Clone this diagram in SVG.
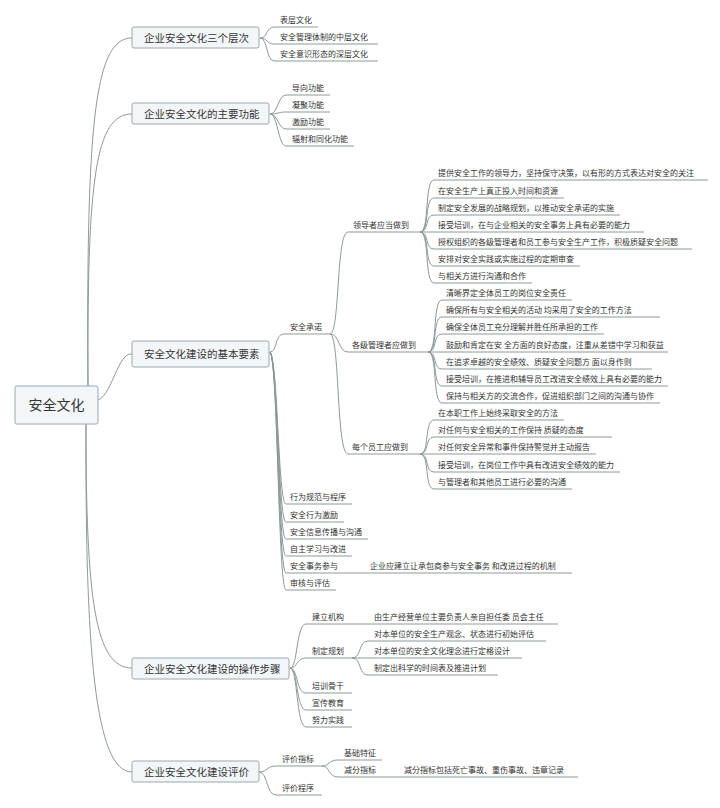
<svg xmlns="http://www.w3.org/2000/svg" width="720" height="808" viewBox="0 0 720 808">
<style>
.c{fill:none;stroke:#8c9a9a;stroke-width:1}
.t{font-family:"Noto Sans CJK SC","Liberation Sans",sans-serif;font-size:8px;fill:#333}
.b{fill:#f3f6f8;stroke:#9aa8ae;stroke-width:1}
.bt{font-family:"Noto Sans CJK SC","Liberation Sans",sans-serif;font-size:10.5px;fill:#333}
</style>
<rect width="720" height="808" fill="#fff"/>
<g id="connectors">
<path class="c" d="M88 386 C86 120 95 38 132 38"/>
<path class="c" d="M88 386 C87 180 95 114 132 114"/>
<path class="c" d="M98 400 C112 395 118 352 132 354"/>
<path class="c" d="M86 424 C86 600 95 668 132 668"/>
<path class="c" d="M86 424 C85 650 95 772 132 772"/>
<path class="c" d="M260 38 C268 38 266 27 274 27 H318"/>
<path class="c" d="M260 38 C268 38 266 44 274 44 H378"/>
<path class="c" d="M260 38 C268 38 266 61 274 61 H378"/>
<path class="c" d="M270 114 C278 114 278 95 286 95 H330"/>
<path class="c" d="M270 114 C278 114 278 112 286 112 H330"/>
<path class="c" d="M270 114 C278 114 278 129 286 129 H330"/>
<path class="c" d="M270 114 C278 114 278 146 286 146 H354"/>
<path class="c" d="M270 352 C278 352 274 334 284 334 H330"/>
<path class="c" d="M270 352 C278 360 278 504 286 504 H352"/>
<path class="c" d="M270 352 C278 360 278 522 286 522 H344"/>
<path class="c" d="M270 352 C278 360 278 539 286 539 H368"/>
<path class="c" d="M270 352 C278 360 278 556 286 556 H352"/>
<path class="c" d="M270 352 C278 360 278 573 286 573 H572"/>
<path class="c" d="M270 352 C278 360 278 590 286 590 H336"/>
<path class="c" d="M330 334 C340 334 336 232 348 232 H420"/>
<path class="c" d="M330 334 C340 334 338 352 348 352 H428"/>
<path class="c" d="M330 334 C340 334 336 454 348 454 H420"/>
<g id="lead-lines">
<path class="c" d="M420 232 C430 232 424 180 434 180 H708"/>
<path class="c" d="M420 232 C430 232 424 198 434 198 H564"/>
<path class="c" d="M420 232 C430 232 424 215 434 215 H620"/>
<path class="c" d="M420 232 C430 232 424 232 434 232 H644"/>
<path class="c" d="M420 232 C430 232 424 249 434 249 H692"/>
<path class="c" d="M420 232 C430 232 424 266 434 266 H580"/>
<path class="c" d="M420 232 C430 232 424 283 434 283 H532"/>
<path class="c" d="M428 352 C438 352 432 300 442 300 H572"/>
<path class="c" d="M428 352 C438 352 432 317 442 317 H660"/>
<path class="c" d="M428 352 C438 352 432 334 442 334 H604"/>
<path class="c" d="M428 352 C438 352 432 352 442 352 H668"/>
<path class="c" d="M428 352 C438 352 432 369 442 369 H652"/>
<path class="c" d="M428 352 C438 352 432 386 442 386 H668"/>
<path class="c" d="M428 352 C438 352 432 403 442 403 H660"/>
<path class="c" d="M420 454 C430 454 424 420 434 420 H564"/>
<path class="c" d="M420 454 C430 454 424 437 434 437 H612"/>
<path class="c" d="M420 454 C430 454 424 454 434 454 H596"/>
<path class="c" d="M420 454 C430 454 424 472 434 472 H620"/>
<path class="c" d="M420 454 C430 454 424 489 434 489 H572"/>
</g>
<path class="c" d="M290 668 C298 668 296 624 306 624 H558"/>
<path class="c" d="M290 668 C298 668 296 658 306 658 H352"/>
<path class="c" d="M290 668 C298 668 296 693 306 693 H352"/>
<path class="c" d="M290 668 C298 668 296 710 306 710 H352"/>
<path class="c" d="M290 668 C298 668 296 727 306 727 H352"/>
<path class="c" d="M352 658 C362 658 358 641 368 641 H546"/>
<path class="c" d="M352 658 C362 658 358 658 368 658 H522"/>
<path class="c" d="M352 658 C362 658 358 675 368 675 H498"/>
<path class="c" d="M259 772 C268 772 266 766 276 766 H322"/>
<path class="c" d="M259 772 C268 772 266 795 276 795 H322"/>
<path class="c" d="M322 766 C330 766 328 760 338 760 H382"/>
<path class="c" d="M322 766 C330 766 328 777 338 777 H578"/>
</g>
<g id="root"><rect class="b" x="15" y="386" width="83" height="38" rx="2"/><text x="56.5" y="410" text-anchor="middle" class="bt" style="font-size:14px">安全文化</text></g>
<g id="n1"><rect class="b" x="132" y="27" width="127" height="21" rx="2"/><text x="144" y="42" class="bt">企业安全文化三个层次</text></g>
<g id="n2"><rect class="b" x="132" y="103" width="137" height="21" rx="2"/><text x="144" y="118" class="bt">企业安全文化的主要功能</text></g>
<g id="n3"><rect class="b" x="132" y="341" width="137" height="26" rx="2"/><text x="144" y="358" class="bt">安全文化建设的基本要素</text></g>
<g id="n4"><rect class="b" x="132" y="658" width="157" height="21" rx="2"/><text x="144" y="673" class="bt">企业安全文化建设的操作步骤</text></g>
<g id="n5"><rect class="b" x="132" y="761" width="127" height="21" rx="2"/><text x="144" y="776" class="bt">企业安全文化建设评价</text></g>
<g id="leaves">
<text class="t" x="280" y="23">表层文化</text>
<text class="t" x="280" y="40">安全管理体制的中层文化</text>
<text class="t" x="280" y="57">安全意识形态的深层文化</text>
<text class="t" x="292" y="91">导向功能</text>
<text class="t" x="292" y="108">凝聚功能</text>
<text class="t" x="292" y="125">激励功能</text>
<text class="t" x="292" y="142">辐射和同化功能</text>
<text class="t" x="290" y="330">安全承诺</text>
<text class="t" x="353" y="228">领导者应当做到</text>
<text class="t" x="352" y="348">各级管理者应做到</text>
<text class="t" x="352" y="450">每个员工应做到</text>
<text class="t" x="438" y="176">提供安全工作的领导力，坚持保守决策，以有形的方式表达对安全的关注</text>
<text class="t" x="438" y="194">在安全生产上真正投入时间和资源</text>
<text class="t" x="438" y="211">制定安全发展的战略规划，以推动安全承诺的实施</text>
<text class="t" x="438" y="228">接受培训，在与企业相关的安全事务上具有必要的能力</text>
<text class="t" x="438" y="245">授权组织的各级管理者和员工参与安全生产工作，积极质疑安全问题</text>
<text class="t" x="438" y="262">安排对安全实践或实施过程的定期审查</text>
<text class="t" x="438" y="279">与相关方进行沟通和合作</text>
<text class="t" x="446" y="296">清晰界定全体员工的岗位安全责任</text>
<text class="t" x="446" y="313">确保所有与安全相关的活动  均采用了安全的工作方法</text>
<text class="t" x="446" y="330">确保全体员工充分理解并胜任所承担的工作</text>
<text class="t" x="446" y="348">鼓励和肯定在安  全方面的良好态度，注重从差错中学习和获益</text>
<text class="t" x="446" y="365">在追求卓越的安全绩效、质疑安全问题方  面以身作则</text>
<text class="t" x="446" y="382">接受培训，在推进和辅导员工改进安全绩效上具有必要的能力</text>
<text class="t" x="446" y="399">保持与相关方的交流合作，促进组织部门之间的沟通与协作</text>
<text class="t" x="438" y="416">在本职工作上始终采取安全的方法</text>
<text class="t" x="438" y="433">对任何与安全相关的工作保持  质疑的态度</text>
<text class="t" x="438" y="450">对任何安全异常和事件保持警觉并主动报告</text>
<text class="t" x="438" y="468">接受培训，在岗位工作中具有改进安全绩效的能力</text>
<text class="t" x="438" y="485">与管理者和其他员工进行必要的沟通</text>
<text class="t" x="290" y="500">行为规范与程序</text>
<text class="t" x="290" y="518">安全行为激励</text>
<text class="t" x="290" y="535">安全信息传播与沟通</text>
<text class="t" x="290" y="552">自主学习与改进</text>
<text class="t" x="290" y="569">安全事务参与</text>
<text class="t" x="370" y="569">企业应建立让承包商参与安全事务  和改进过程的机制</text>
<text class="t" x="290" y="586">审核与评估</text>
<text class="t" x="312" y="620">建立机构</text>
<text class="t" x="374" y="620">由生产经营单位主要负责人亲自担任委  员会主任</text>
<text class="t" x="312" y="654">制定规划</text>
<text class="t" x="374" y="637">对本单位的安全生产观念、状态进行初始评估</text>
<text class="t" x="374" y="654">对本单位的安全文化理念进行定格设计</text>
<text class="t" x="374" y="671">制定出科学的时间表及推进计划</text>
<text class="t" x="312" y="689">培训骨干</text>
<text class="t" x="312" y="706">宣传教育</text>
<text class="t" x="312" y="723">努力实践</text>
<text class="t" x="282" y="762">评价指标</text>
<text class="t" x="344" y="756">基础特征</text>
<text class="t" x="344" y="773">减分指标</text>
<text class="t" x="404" y="773">减分指标包括死亡事故、重伤事故、违章记录</text>
<text class="t" x="282" y="791">评价程序</text>
</g>
</svg>
